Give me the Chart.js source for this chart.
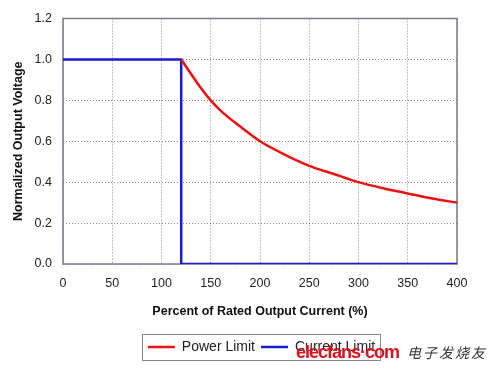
<!DOCTYPE html>
<html><head><meta charset="utf-8">
<script src="https://cdn.jsdelivr.net/npm/chart.js@4"></script>
<style>
html,body{margin:0;padding:0;background:#fff;}
#wrap{position:relative;width:500px;height:374px;}
#wm{position:absolute;left:296px;top:342px;height:24px;white-space:nowrap;font-family:"Liberation Sans",Arial,sans-serif;}
#wm .en{color:#e0101a;font-size:18px;font-weight:bold;letter-spacing:-1px;}
#wm .cn{color:#333;font-size:14px;font-family:"Noto Sans CJK SC",sans-serif;margin-left:8px;letter-spacing:2px;font-style:italic;}
</style></head>
<body><div id="wrap"><canvas id="c" width="500" height="374"></canvas>
<div id="wm"><span class="en">elecfans·com</span><span class="cn">电子发烧友</span></div></div>
<script>
const xTicks = [0,50,100,150,200,250,300,350,400];
const yTicks = [0.0,0.2,0.4,0.6,0.8,1.0,1.2];
const powerX = [120,140,150,160,175,200,225,250,275,300,325,350,375,400];
const powerY = [1.0,0.86,0.80,0.75,0.69,0.60,0.535,0.48,0.44,0.40,0.37,0.345,0.32,0.30];
const currentX = [0,120,120,400];
const currentY = [1.0,1.0,0.0,0.0];
const seriesNames = ["Power Limit","Current Limit"];

const font = "'Liberation Sans', Arial, sans-serif";
const LEGEND_SHIFT = 33;
const frame = {
  id:'frame',
  afterUpdate(chart){
    const lg = chart.legend; if(!lg) return;
    lg.left += LEGEND_SHIFT; lg.right += LEGEND_SHIFT;
    (lg.legendHitBoxes||[]).forEach(h=>{h.left += LEGEND_SHIFT;});
  },
  beforeDatasetsDraw(chart){
    const a = chart.chartArea, ctx = chart.ctx;
    ctx.save(); ctx.strokeStyle='#7a7a8a'; ctx.lineWidth=1.5;
    ctx.strokeRect(a.left, a.top, a.right-a.left, a.bottom-a.top);
    ctx.restore();
  },
  afterDraw(chart){
    const lg = chart.legend; if(!lg || !lg.legendHitBoxes.length) return;
    const hb = lg.legendHitBoxes;
    const l = hb[0].left - 6, r = hb[hb.length-1].left + hb[hb.length-1].width + 5;
    const t = hb[0].top - 6, b = hb[0].top + hb[0].height + 6;
    const ctx = chart.ctx; ctx.save(); ctx.strokeStyle='#888'; ctx.lineWidth=1;
    ctx.strokeRect(Math.round(l)+0.5, Math.round(t)+0.5, Math.round(r-l), Math.round(b-t)); ctx.restore();
  }
};
new Chart(document.getElementById('c'), {
  type:'line',
  data:{datasets:[
    {label:seriesNames[0], data:powerX.map((x,i)=>({x, y:powerY[i]})), borderColor:'#ee1111', backgroundColor:'#ee1111', borderWidth:2.5, pointRadius:0, tension:0.3, fill:false},
    {label:seriesNames[1], data:currentX.map((x,i)=>({x, y:currentY[i]})), borderColor:'#1a1ad0', backgroundColor:'#1a1ad0', borderWidth:2.5, pointRadius:0, tension:0, fill:false, clip:0}
  ]},
  options:{
    responsive:false, animation:false, devicePixelRatio:1,
    layout:{padding:{left:0,right:43,top:12,bottom:10}},
    plugins:{
      legend:{position:'bottom', labels:{usePointStyle:true, pointStyle:'line', pointStyleWidth:27, boxHeight:2, color:'#222', font:{family:font,size:14}, padding:6}},
      tooltip:{enabled:false}
    },
    scales:{
      x:{type:'linear', min:0, max:400, afterBuildTicks(s){s.ticks = xTicks.map(v=>({value:v}));},
        ticks:{color:'#222', font:{family:font,size:12.5}, padding:12},
        grid:{color:'#8a8a8a', drawTicks:false, lineWidth:1},
        border:{display:false, dash:[1,2]},
        title:{display:true, text:'Percent of Rated Output Current (%)', color:'#111', font:{family:font,size:12.5,weight:'bold'}, padding:{top:10,bottom:15}},
        afterFit(s){s.height = 70;}
      },
      y:{type:'linear', min:0, max:1.2, afterBuildTicks(s){s.ticks = yTicks.map(v=>({value:v}));},
        ticks:{color:'#222', font:{family:font,size:12.5}, padding:11, callback:v=>Number(v).toFixed(1)},
        grid:{color:'#8a8a8a', drawTicks:false, lineWidth:1},
        border:{display:false, dash:[1,2]},
        title:{display:true, text:'Normalized Output Voltage', color:'#111', font:{family:font,size:12.5,weight:'bold'}, padding:{top:11,bottom:0}},
        afterFit(s){s.width = 63;}
      }
    }
  },
  plugins:[frame]
});
</script></body></html>
